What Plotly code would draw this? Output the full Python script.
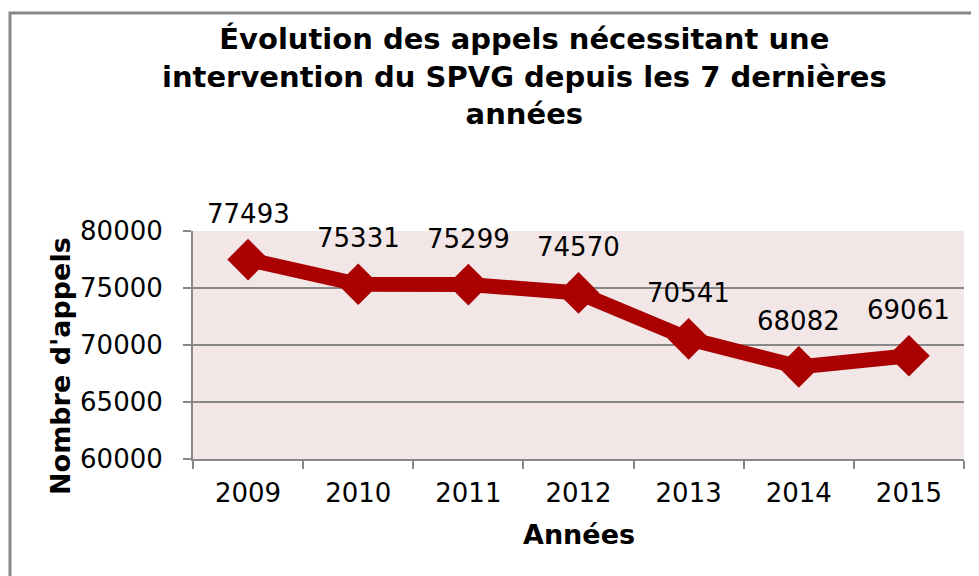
import plotly.graph_objects as go

years = ["2009", "2010", "2011", "2012", "2013", "2014", "2015"]
calls = [77493, 75331, 75299, 74570, 70541, 68082, 69061]
y_ticks = [60000, 65000, 70000, 75000, 80000]

W, H = 979, 576
OFF = 8  # page body margin offset of the figure in the window
# plot area in window pixels: left 193, right 964, top 231, bottom 459
L, T = 193 - OFF, 231 - OFF
R, B = W - (964 - OFF), H - (459 - OFF)
pw, ph = W - L - R, H - T - B

font = "Verdana, DejaVu Sans, sans-serif"

def px_x(px):
    return (px - OFF - L) / pw

def px_y(py):
    return (H - B - (py - OFF)) / ph

fig = go.Figure()
fig.add_trace(go.Scatter(
    x=years, y=calls, mode="lines+markers",
    line=dict(color="#AA0000", width=15),
    marker=dict(symbol="diamond", size=32, color="#AA0000"),
    cliponaxis=False, hoverinfo="skip",
))

# data labels above each point (x given as category index)
for i, v in enumerate(calls):
    fig.add_annotation(x=i, y=v, xref="x", yref="y", text=str(v), showarrow=False,
                       yanchor="middle", xanchor="center", yshift=46,
                       font=dict(family=font, size=26, color="#000000"))

# outer chart border
fig.add_shape(type="rect", xref="paper", yref="paper",
              x0=px_x(10), x1=px_x(1100), y0=px_y(700), y1=px_y(13),
              line=dict(color="#888888", width=3), layer="below")

# title
fig.add_annotation(
    text="<b>Évolution des appels nécessitant une<br>intervention du SPVG depuis les 7 dernières<br>années</b>",
    xref="paper", yref="paper", x=px_x(524), y=px_y(20), xanchor="center", yanchor="top",
    showarrow=False, align="center",
    font=dict(family=font, size=29, color="#000000"))

# axis titles
fig.add_annotation(text="<b>Nombre d'appels</b>", xref="paper", yref="paper",
                   x=px_x(60), y=px_y(366), xanchor="center", yanchor="middle",
                   textangle=-90, showarrow=False,
                   font=dict(family=font, size=27, color="#000000"))
fig.add_annotation(text="<b>Années</b>", xref="paper", yref="paper",
                   x=px_x(579), y=px_y(534), xanchor="center", yanchor="middle",
                   showarrow=False,
                   font=dict(family=font, size=27, color="#000000"))

fig.update_layout(
    width=W, height=H,
    margin=dict(l=L, r=R, t=T, b=B),
    paper_bgcolor="white", plot_bgcolor="#F2E6E6",
    showlegend=False,
    xaxis=dict(
        type="category", categoryorder="array", categoryarray=years,
        range=[-0.5, len(years) - 0.5],
        tickson="boundaries", ticks="outside", ticklen=8,
        tickcolor="#888888", tickwidth=2, showline=True, linecolor="#888888",
        linewidth=2, showgrid=False, automargin=False, tickangle=0,
        tickfont=dict(family=font, size=26, color="#000000"),
        ticklabelstandoff=10,
    ),
    yaxis=dict(
        range=[60000, 80000], tickvals=y_ticks, ticks="outside", ticklen=8,
        tickcolor="#888888", tickwidth=2, showline=True, linecolor="#888888",
        linewidth=2, showgrid=True, gridcolor="#888888", gridwidth=2,
        zeroline=False, tickformat="d", automargin=False,
        tickfont=dict(family=font, size=26, color="#000000"),
        ticklabelstandoff=15,
    ),
)

fig.write_html("out.html")
